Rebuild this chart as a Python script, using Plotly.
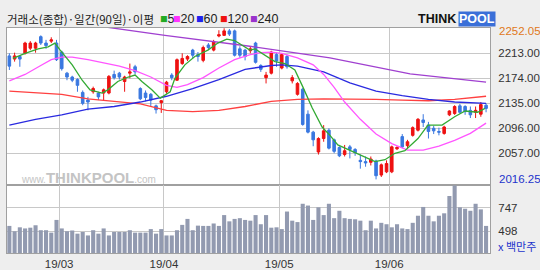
import plotly.graph_objects as go
from plotly.subplots import make_subplots

# ---------------- data ----------------
opens = [2209,2204,2208,2213,2221,2221,2239,2229,2232,2229,
         2215,2182,2176,2172,2152,2140,2153,2151,2151,2151,
         2180,2182,2169,2182,2192,2158,2151,2149,2131,2136,
         2153,2179,2171,2197,2204,2218,2211,2202,2226,2218,
         2240,2241,2248,2248,2220,2218,2217,2229,2194,2175,
         2182,2211,2190,2208,2170,2149,2157,2118,2090,2059,
         2080,2093,2078,2066,2055,2067,2063,2046,2044,2043,
         2045,2023,2028,2028,2064,2083,2069,2085,2093,2109,
         2101,2096,2091,2088,2117,2119,2131,2130,2124,2121,
         2118,2132]
highs = [2213,2214,2210,2231,2232,2231,2241,2234,2238,2234,
         2217,2184,2178,2174,2155,2145,2161,2153,2158,2179,
         2186,2184,2178,2197,2195,2160,2155,2151,2133,2140,
         2170,2182,2205,2213,2210,2220,2215,2225,2229,2234,
         2249,2252.05,2251,2250,2224,2220,2224,2231,2196,2184,
         2217,2214,2213,2211,2179,2168,2159,2124,2092,2082,
         2101,2096,2080,2068,2070,2070,2065,2055,2052,2052,
         2047,2041,2046,2069,2068,2087,2078,2099,2112,2118,
         2106,2100,2097,2100,2124,2132,2134,2132,2130,2130,
         2137,2135]
lows = [2187,2200,2192,2211,2218,2214,2226,2220,2229,2201,
        2186,2171,2168,2153,2132,2124,2150,2140,2140,2149,
        2172,2172,2153,2174,2180,2140,2138,2130,2119,2120,
        2150,2171,2170,2195,2201,2205,2200,2199,2218,2216,
        2238,2240,2240,2208,2206,2202,2213,2197,2184,2166,
        2180,2192,2188,2189,2166,2147,2100,2088,2068,2055,
        2075,2063,2057,2051,2052,2049,2053,2033,2036,2038,
        2016.25,2020,2026,2026,2062,2065,2064,2083,2091,2098,
        2080,2087,2085,2086,2115,2117,2119,2117,2112,2112,
        2114,2121]
closes = [2193,2209,2204,2229,2229,2229,2229,2225,2234,2203,
          2189,2176,2171,2163,2135,2137,2158,2145,2156,2177,
          2175,2176,2176,2184,2184,2142,2144,2140,2125,2139,
          2168,2175,2203,2205,2208,2210,2208,2222,2222,2231,
          2242,2248,2243,2210,2210,2208,2220,2199,2188,2179,
          2215,2201,2211,2192,2175,2166,2102,2090,2078,2080,
          2092,2065,2060,2053,2061,2063,2058,2044,2042,2048,
          2022,2039,2041,2067,2066,2067,2075,2097,2110,2105,
          2091,2092,2090,2098,2123,2130,2121,2122,2117,2124,
          2133,2127]
volumes = [555,498,540,528,536,562,509,509,483,619,
           528,498,506,472,490,453,509,472,528,453,
           490,490,490,509,483,483,483,521,472,521,
           453,453,509,566,630,509,558,555,555,581,
           555,671,604,630,638,619,611,671,573,671,
           536,540,521,709,611,596,792,773,619,754,
           671,792,638,717,638,630,626,611,509,611,
           528,588,573,540,573,528,521,588,664,758,
           664,604,664,690,875,988,754,739,717,792,
           732,555]
days = list(range(len(closes)))

# moving averages (x = trading-day position, y = index level)
ma5_x = [0.7,3,5.5,7.4,8.7,9.7,12,13.9,15.4,17.7,18.8,20.7,22.7,24,25.3,27.2,28.8,30.7,31.6,33.5,
         35.4,37.9,39.8,41.5,43,44.6,45.9,46.9,48.8,50.7,52.6,54.5,56,57.8,59.7,61.2,62.7,65.4,
         67.9,69.8,71.7,73.6,75.5,78,79.9,82.6,85,87,89.4,90.8]
ma5_y = [2205,2213,2220,2223,2229,2218,2195,2171,2156,2151,2156,2169,2176,2179,2169,2156,2143,2153,2174,2195,
         2208,2218,2229,2235,2233,2225,2218,2220,2210,2200,2197,2187,2161,2128,2098,2085,2070,2060,
         2052,2044,2047,2057,2061,2080,2101,2101,2114,2123,2121,2127]
ma20_x = [0,3,6,8,10,12,15,18,21,24,27,30,32,34,37,40,43,46,48,50,52,55,58,60,62,64,67,70,73,76,79,82,85,88,91]
ma20_y = [2170,2180,2194,2203,2207,2207,2203,2198,2193,2186,2176,2163,2160,2164,2175,2190,2203,2211,2214,2215,
          2213,2206,2195,2180,2160,2137,2110,2087,2072,2062,2062,2068,2077,2088,2104]
ma60_x = [0,5,10,15,20,25,30,35,40,45,50,52,55,60,65,70,75,80,85,91]
ma60_y = [2101,2110,2117,2126,2130,2137,2146,2158,2172,2188,2194,2195,2193,2184,2167,2154,2147,2141,2137,2135]
ma120_x = [0,5,10,15,20,25,30,35,40,45,50,55,60,65,70,75,80,85,91]
ma120_y = [2154,2152,2149,2142,2138,2134,2124,2122,2124,2130,2138,2141,2142,2142,2141,2140,2139,2141,2146]
ma240_x = [14,20.6,29.7,45.9,51.3,61.2,76.5,90.4,91]
ma240_y = [2259,2251,2241,2224,2218,2206,2181,2168,2168]

month_pos = [9.5, 29.5, 51.5, 72.5]
month_labels = ["19/03", "19/04", "19/05", "19/06"]
price_ticks = [2213, 2174, 2135, 2096, 2057]
price_tick_text = ["2213.00", "2174.00", "2135.00", "2096.00", "2057.00"]
price_max, price_min = 2252.05, 2016.25
vol_ticks = [747, 498]
ma_periods = ["5", "20", "60", "120", "240"]
ma_colors = ["#22aa22", "#ff33ff", "#2222ee", "#ee1111", "#9933cc"]

# ---------------- figure ----------------
fig = make_subplots(rows=2, cols=1, shared_xaxes=True, vertical_spacing=0,
                    row_heights=[157, 68])

ma_specs = [(ma240_x, ma240_y, "#a040d0"), (ma120_x, ma120_y, "#ff4040"),
            (ma60_x, ma60_y, "#2a2ae0"), (ma20_x, ma20_y, "#ff55ff"),
            (ma5_x, ma5_y, "#33aa33")]
for mx, my, col in ma_specs:
    fig.add_trace(go.Scatter(x=mx, y=my, mode="lines", line=dict(color=col, width=1.3),
                             showlegend=False, hoverinfo="skip"), row=1, col=1)

fig.add_trace(go.Candlestick(x=days, open=opens, high=highs, low=lows, close=closes,
                             increasing=dict(line=dict(color="#ee1111", width=1), fillcolor="#ee1111"),
                             decreasing=dict(line=dict(color="#3a78e0", width=1), fillcolor="#3a78e0"),
                             whiskerwidth=0, showlegend=False), row=1, col=1)

fig.add_trace(go.Bar(x=days, y=volumes, marker=dict(color="#929ab0", line=dict(width=0)),
                     showlegend=False), row=2, col=1)

grid = "#c8c8c8"
border = "#a0a0a0"
fig.update_xaxes(range=[-0.45, 91.75], tickvals=month_pos, ticktext=month_labels,
                 showgrid=True, gridcolor=grid, gridwidth=1, zeroline=False,
                 showline=True, linecolor=border, mirror=True, ticks="",
                 rangeslider_visible=False, automargin=False,
                 tickfont=dict(family="Liberation Sans", size=11.5, color="#333333"))
fig.update_xaxes(showticklabels=False, row=1, col=1)

fig.update_yaxes(range=[2007.5, 2252.5], side="right", tickvals=price_ticks, ticktext=price_tick_text,
                 showgrid=True, gridcolor=grid, zeroline=False, showline=True, linecolor=border,
                 mirror=True, ticks="", ticklabelstandoff=5, automargin=False,
                 tickfont=dict(family="Liberation Sans", size=11.5, color="#333333"), row=1, col=1)
fig.update_yaxes(range=[265, 993], side="right", tickvals=vol_ticks, ticktext=[str(v) for v in vol_ticks],
                 showgrid=True, gridcolor=grid, zeroline=False, showline=True, linecolor=border,
                 mirror=True, ticks="", ticklabelstandoff=5, automargin=False,
                 tickfont=dict(family="Liberation Sans", size=11.5, color="#333333"), row=2, col=1)


def px_x(px):
    return (px - 7) / 483


def px_y(py):
    return (253 - py) / 225


annotations = []
title_y = px_y(19)
annotations.append(dict(text="거래소(종합)·일간(90일)·이평", xref="paper", yref="paper", x=px_x(5), y=title_y,
                        xanchor="left", yanchor="middle", showarrow=False,
                        font=dict(family="Noto Sans CJK KR", size=11.5, color="#222222")))
for per, col, left in zip(ma_periods, ma_colors, [158, 171, 194, 218, 248]):
    annotations.append(dict(text=f"<span style='color:{col}'>■</span>{per}", xref="paper", yref="paper",
                            x=px_x(left), y=title_y, xanchor="left", yanchor="middle", showarrow=False,
                            font=dict(family="Liberation Sans", size=12.5, color="#222222")))

annotations += [
    dict(text="<b>THINK</b>", xref="paper", yref="paper", x=px_x(458), y=px_y(19),
         xanchor="right", yanchor="middle", showarrow=False,
         font=dict(family="Liberation Sans", size=12.5, color="#111111")),
    dict(text="<b>POOL</b>", xref="paper", yref="paper", x=px_x(458), y=px_y(19),
         xanchor="left", yanchor="middle", showarrow=False, bgcolor="#3a6fd8", borderpad=0,
         font=dict(family="Liberation Sans", size=12.5, color="#ffffff")),
    dict(text="www.<span style='font-size:15px'><b>THINKPOOL</b></span>.com", xref="paper", yref="paper",
         x=px_x(19), y=px_y(177), xanchor="left", yanchor="middle", showarrow=False,
         font=dict(family="Liberation Sans", size=10, color="#c4c4c4")),
    dict(text=f"{price_max:.2f}", xref="paper", yref="paper", x=px_x(497), y=px_y(31),
         xanchor="left", yanchor="middle", showarrow=False,
         font=dict(family="Liberation Sans", size=11.5, color="#e07820")),
    dict(text=f"{price_min:.2f}", xref="paper", yref="paper", x=px_x(497), y=px_y(179),
         xanchor="left", yanchor="middle", showarrow=False,
         font=dict(family="Liberation Sans", size=11.5, color="#2233cc")),
    dict(text="x 백만주", xref="paper", yref="paper", x=px_x(496), y=px_y(246),
         xanchor="left", yanchor="middle", showarrow=False,
         font=dict(family="Noto Sans CJK KR", size=11, color="#2233cc")),
]

fig.update_layout(width=540, height=270, margin=dict(l=7, r=50, t=28, b=17, autoexpand=False),
                  paper_bgcolor="#eeeeee", plot_bgcolor="#ffffff", showlegend=False,
                  bargap=0.22, annotations=annotations)

fig.write_html("out.html")
